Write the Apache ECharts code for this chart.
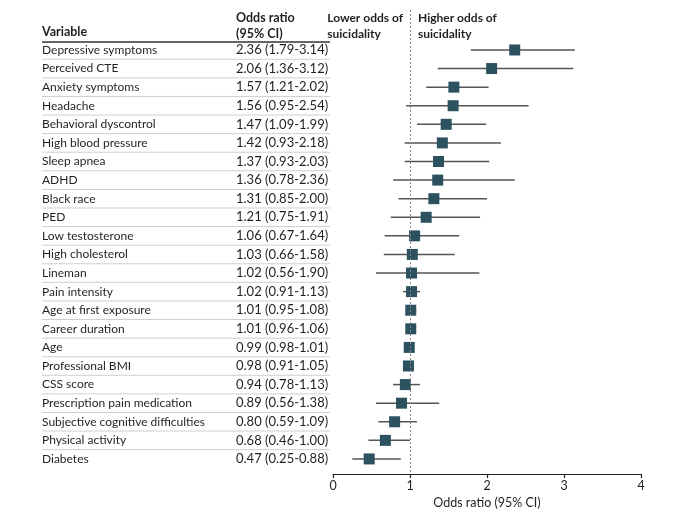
<!DOCTYPE html>
<html><head><meta charset="utf-8">
<script src="https://cdn.jsdelivr.net/npm/echarts@6/dist/echarts.min.js"></script>
<style>html,body{margin:0;padding:0;background:#fff}#c{width:690px;height:522px}</style>
</head><body><div id="c"></div>
<script>
var variables = ["Depressive symptoms","Perceived CTE","Anxiety symptoms","Headache","Behavioral dyscontrol","High blood pressure","Sleep apnea","ADHD","Black race","PED","Low testosterone","High cholesterol","Lineman","Pain intensity","Age at first exposure","Career duration","Age","Professional BMI","CSS score","Prescription pain medication","Subjective cognitive difficulties","Physical activity","Diabetes"];
var oddsRatio = [2.36,2.06,1.57,1.56,1.47,1.42,1.37,1.36,1.31,1.21,1.06,1.03,1.02,1.02,1.01,1.01,0.99,0.98,0.94,0.89,0.80,0.68,0.47];
var ciLow = [1.79,1.36,1.21,0.95,1.09,0.93,0.93,0.78,0.85,0.75,0.67,0.66,0.56,0.91,0.95,0.96,0.98,0.91,0.78,0.56,0.59,0.46,0.25];
var ciHigh = [3.14,3.12,2.02,2.54,1.99,2.18,2.03,2.36,2.00,1.91,1.64,1.58,1.90,1.13,1.08,1.06,1.01,1.05,1.13,1.38,1.09,1.00,0.88];
var xTicks = [0,1,2,3,4];

var FONT = 'Lato';
var TXT = '#231f20';
function fmt(v){return v.toFixed(2);}
var rows = variables.map(function(v,i){return [i, v, fmt(oddsRatio[i])+' ('+fmt(ciLow[i])+'-'+fmt(ciHigh[i])+')'];});

var chart = echarts.init(document.getElementById('c'));
var yMin = -2.15, yMax = 22.81;
chart.setOption({
  animation:false,
  textStyle:{fontFamily:FONT},
  grid:[
    {left:333,right:49,top:10,bottom:48},
    {left:42,width:288,top:10,bottom:48}
  ],
  xAxis:[
    {gridIndex:0,type:'value',min:xTicks[0],max:xTicks[xTicks.length-1],interval:1,
     axisLine:{show:true,onZero:false,lineStyle:{color:'#222',width:1.2}},
     axisTick:{show:true,length:4,lineStyle:{color:'#222',width:1.2}},
     axisLabel:{color:TXT,fontSize:12.5,margin:5,fontFamily:FONT},
     splitLine:{show:false},
     name:'Odds ratio (95% CI)',nameLocation:'middle',nameGap:20,
     nameTextStyle:{color:TXT,fontSize:12.5,fontFamily:FONT}},
    {gridIndex:1,type:'value',min:0,max:1,show:false}
  ],
  yAxis:[
    {gridIndex:0,type:'value',inverse:true,min:yMin,max:yMax,show:false},
    {gridIndex:1,type:'value',inverse:true,min:yMin,max:yMax,show:false}
  ],
  graphic:[
    {type:'text',left:42,top:25,style:{text:'Variable',font:'bold 12.5px '+FONT,fill:TXT}},
    {type:'text',left:236,top:10,style:{text:'Odds ratio\n(95% CI)',font:'bold 12.5px '+FONT,fill:TXT,lineHeight:16}},
    {type:'text',right:287,top:10,style:{text:'Lower odds of\nsuicidality',font:'bold 12px '+FONT,fill:TXT,lineHeight:16,align:'right'}},
    {type:'text',left:418,top:10,style:{text:'Higher odds of\nsuicidality',font:'bold 12px '+FONT,fill:TXT,lineHeight:16}},
    {type:'line',shape:{x1:42,y1:42,x2:330,y2:42},style:{stroke:'#333',lineWidth:1.3}}
  ],
  series:[
    {type:'custom',xAxisIndex:1,yAxisIndex:1,data:rows,
     renderItem:function(params,api){
       var i=api.value(0);
       var p0=api.coord([0,i]);
       var pOR=api.coord([0.6736,i]);
       var children=[
         {type:'text',x:p0[0],y:p0[1],style:{text:variables[i],font:'12px '+FONT,fill:TXT,verticalAlign:'middle'}},
         {type:'text',x:pOR[0],y:pOR[1],style:{text:rows[i][2],font:'13px '+FONT,fill:TXT,verticalAlign:'middle'}}
       ];
       if(i<variables.length-1){
         var a=api.coord([0,i+0.5]), b=api.coord([1,i+0.5]);
         children.push({type:'line',shape:{x1:a[0],y1:a[1],x2:b[0],y2:b[1]},style:{stroke:'#cfcfcf',lineWidth:1}});
       }
       return {type:'group',children:children};
     }},
    {type:'custom',xAxisIndex:0,yAxisIndex:0,
     data:variables.map(function(v,i){return [i,ciLow[i],ciHigh[i]];}),
     renderItem:function(params,api){
       var a=api.coord([api.value(1),api.value(0)]), b=api.coord([api.value(2),api.value(0)]);
       return {type:'line',shape:{x1:a[0],y1:a[1],x2:b[0],y2:b[1]},style:{stroke:'#555',lineWidth:1.5}};
     },z:3},
    {type:'scatter',xAxisIndex:0,yAxisIndex:0,symbol:'rect',symbolSize:11,
     data:variables.map(function(v,i){return [oddsRatio[i],i];}),
     itemStyle:{color:'#2c5260',opacity:1},z:4,
     markLine:{silent:true,symbol:'none',label:{show:false},
       lineStyle:{type:[2,2],color:'#888',width:1},
       data:[{xAxis:1}]}}
  ]
});
</script></body></html>
